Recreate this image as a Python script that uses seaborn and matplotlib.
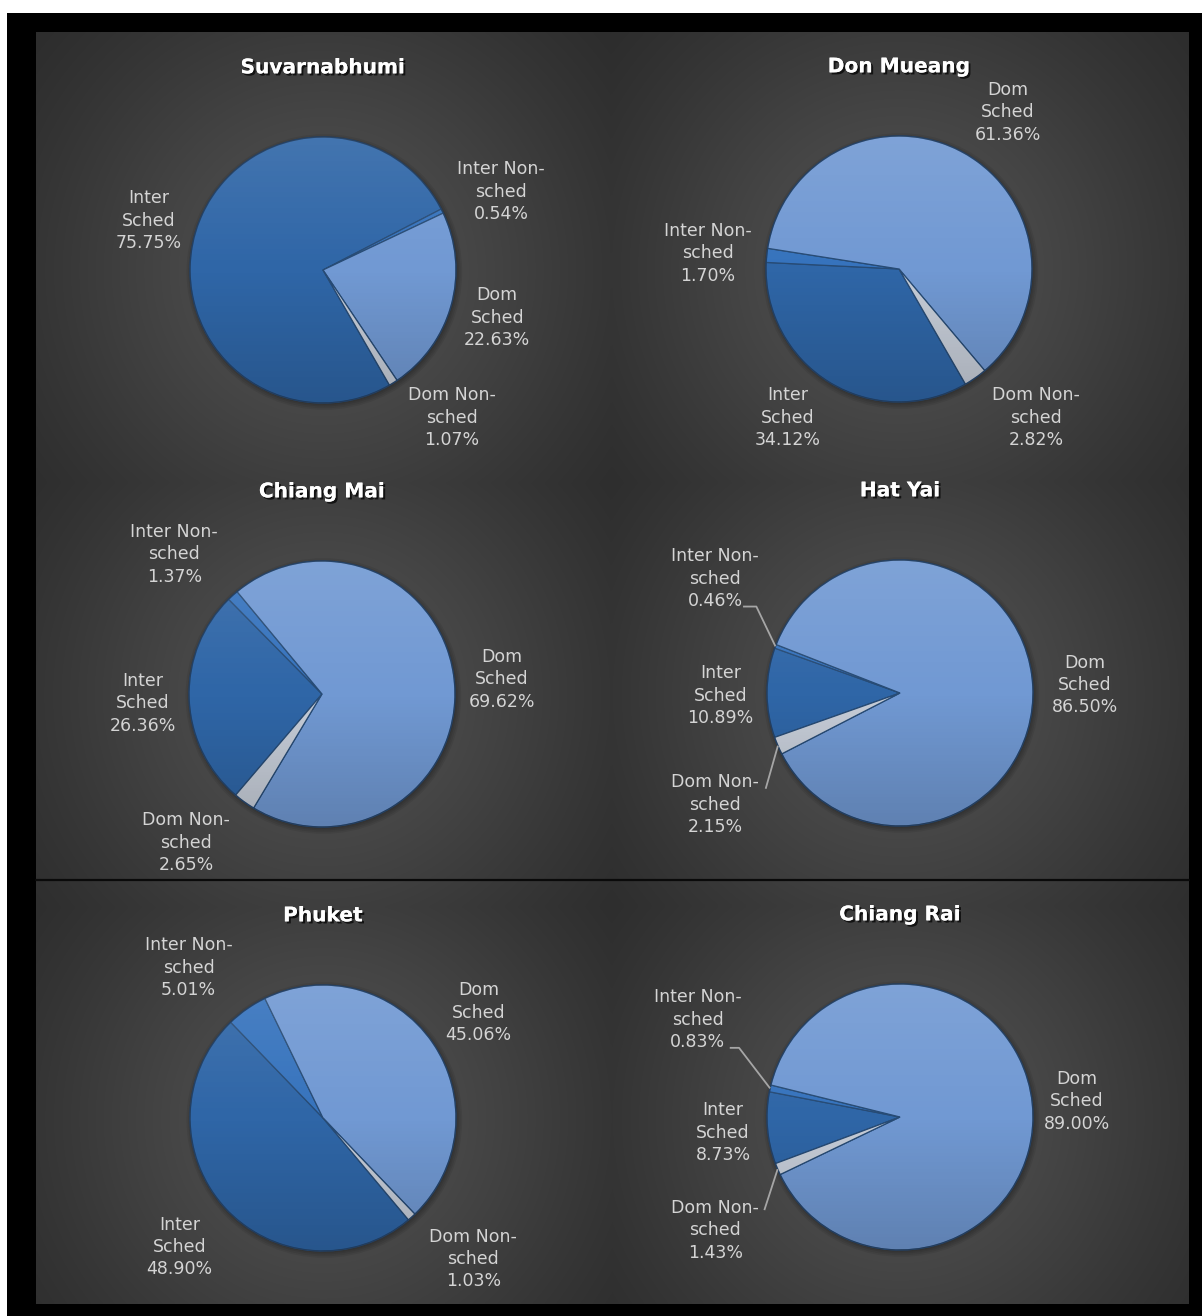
import numpy as np
import matplotlib
matplotlib.use("Agg")
import matplotlib.pyplot as plt
import matplotlib.patheffects as pe
from matplotlib.patches import Circle
import seaborn as sns

# ---------------- data ----------------
airports = ["Suvarnabhumi", "Don Mueang", "Chiang Mai", "Hat Yai", "Phuket", "Chiang Rai"]
categories = ["Inter Sched", "Inter Non-sched", "Dom Sched", "Dom Non-sched"]
category_labels = ["Inter\nSched", "Inter Non-\nsched", "Dom\nSched", "Dom Non-\nsched"]

suvarnabhumi = [75.75, 0.54, 22.63, 1.07]
don_mueang = [34.12, 1.70, 61.36, 2.82]
chiang_mai = [26.36, 1.37, 69.62, 2.65]
hat_yai = [10.89, 0.46, 86.50, 2.15]
phuket = [48.90, 5.01, 45.06, 1.03]
chiang_rai = [8.73, 0.83, 89.00, 1.43]
shares = [suvarnabhumi, don_mueang, chiang_mai, hat_yai, phuket, chiang_rai]

# angle of first slice (degrees clockwise from 12 o'clock)
first_slice_angle = [150, 150, 220.5, 250.5, 140, 249.5]

# ---------------- style / layout ----------------
sns.set_theme(style="dark")
plt.rcParams["font.family"] = ["DejaVu Sans"]

slice_colors = sns.color_palette(["#2F66A7", "#3673BD", "#7199D3", "#C6CDD8"])
label_color = "#D4D4D4"

W, H = 1202, 1316
R_PX = 133.0
L = 1.85
pie_centers_px = [(323, 270), (899, 269), (322, 694), (900, 693), (323, 1118), (900, 1117)]

# label positions relative to pie centre (in radii), order = categories
label_pos = [
    [(-1.31, 0.37), (1.34, 0.59), (1.31, -0.36), (0.97, -1.11)],
    [(-0.84, -1.12), (-1.44, 0.12), (0.82, 1.18), (1.03, -1.12)],
    [(-1.35, -0.07), (-1.11, 1.05), (1.35, 0.11), (-1.02, -1.12)],
    [(-1.35, -0.02), (-1.39, 0.86), (1.39, 0.06), (-1.39, -0.84)],
    [(-1.08, -0.97), (-1.01, 1.13), (1.17, 0.79), (1.13, -1.06)],
    [(-1.33, -0.12), (-1.52, 0.73), (1.33, 0.12), (-1.39, -0.85)],
]
# leader lines: chart index -> {slice index: points from label side}
leaders = {
    3: {1: [(-1.18, 0.65), (-1.08, 0.65)], 3: [(-1.01, -0.72)]},
    5: {1: [(-1.28, 0.52), (-1.21, 0.52)], 3: [(-1.02, -0.70)]},
}

fig = plt.figure(figsize=(W / 100, H / 100), dpi=100, facecolor="white")

# ---------------- background ----------------
bg = fig.add_axes([0, 0, 1, 1], zorder=0)
bg.set_xlim(0, W)
bg.set_ylim(H, 0)
bg.set_axis_off()
bg.fill_between([7, W], 13, H, color="black", lw=0)
x0, x1, y0, y1 = 36, 1189, 32, 1304
xx, yy = np.meshgrid(np.arange(x0, x1, 2.0), np.arange(y0, y1, 2.0))
glow = np.zeros_like(xx)
for cx, cy in pie_centers_px:
    d = np.hypot(xx - cx, yy - cy)
    glow = np.maximum(glow, np.exp(-(d / 300.0) ** 2))
val = 0.14 + 0.17 * glow
img = np.dstack([val, val, val])
bg.imshow(img, extent=(x0, x1, y1, y0), aspect="auto", interpolation="bilinear", zorder=1)
bg.plot([x0, x1], [880, 880], color="#0a0a0a", lw=1.6, zorder=2)
bg.set_xlim(0, W)
bg.set_ylim(H, 0)

# shading overlay for the pies
g = np.linspace(0, 1, 256)[:, None] * np.ones((1, 256))
shade = np.zeros((256, 256, 4))
top_w = np.clip(1 - g * 2, 0, 1)
bot_b = np.clip(g * 2 - 1, 0, 1)
shade[..., :3] = np.where(g[..., None] < 0.5, 1.0, 0.0)
shade[..., 3] = 0.10 * top_w + 0.16 * bot_b

# ---------------- pies ----------------
size = 2 * L * R_PX
for k, (name, vals) in enumerate(zip(airports, shares)):
    cx, cy = pie_centers_px[k]
    ax = fig.add_axes([(cx - size / 2) / W, (H - cy - size / 2) / H, size / W, size / H], zorder=1)
    ax.patch.set_alpha(0)

    # soft shadow
    for s in range(4):
        ax.add_patch(Circle((0.01, -0.015), 1.0 + 0.012 * s, color="black", alpha=0.07, lw=0, zorder=0))

    wedges, _ = ax.pie(
        vals, colors=slice_colors, startangle=90 - first_slice_angle[k], counterclock=False,
        radius=1.0, wedgeprops=dict(edgecolor="#274b75", linewidth=0.9),
    )
    for w in wedges:
        w.set_zorder(2)

    circ = Circle((0, 0), 1.0, transform=ax.transData, facecolor="none", edgecolor="none")
    ax.add_patch(circ)
    im = ax.imshow(shade, extent=(-1, 1, -1, 1), zorder=3, interpolation="bilinear")
    im.set_clip_path(circ)
    ax.add_patch(Circle((0, 0), 1.0, fill=False, edgecolor="#1f3552", lw=1.0, alpha=0.5, zorder=4))

    # data labels
    for i, v in enumerate(vals):
        lx, ly = label_pos[k][i]
        ax.text(lx, ly, f"{category_labels[i]}\n{v:.2f}%", color=label_color, fontsize=12.5,
                ha="center", va="center", multialignment="center", linespacing=1.32,
                zorder=6, clip_on=False)

    # leader lines
    for i, pts in leaders.get(k, {}).items():
        w = wedges[i]
        mid = np.deg2rad((w.theta1 + w.theta2) / 2)
        xs = [p[0] for p in pts] + [np.cos(mid)]
        ys = [p[1] for p in pts] + [np.sin(mid)]
        ax.plot(xs, ys, color="#A6A6A6", lw=1.3, zorder=5, clip_on=False, solid_capstyle="butt")

    # title
    ax.text(0, 1.52, name, color="white", fontsize=14.5, fontweight="bold", ha="center", va="center",
            zorder=6, clip_on=False,
            path_effects=[pe.withSimplePatchShadow(offset=(1.5, -1.5), shadow_rgbFace="black", alpha=0.7),
                          pe.Normal()])

    ax.set_xlim(-L, L)
    ax.set_ylim(-L, L)
    ax.set_aspect("equal")
    ax.set_axis_off()

fig.savefig("out.png", dpi=100, facecolor="white")
